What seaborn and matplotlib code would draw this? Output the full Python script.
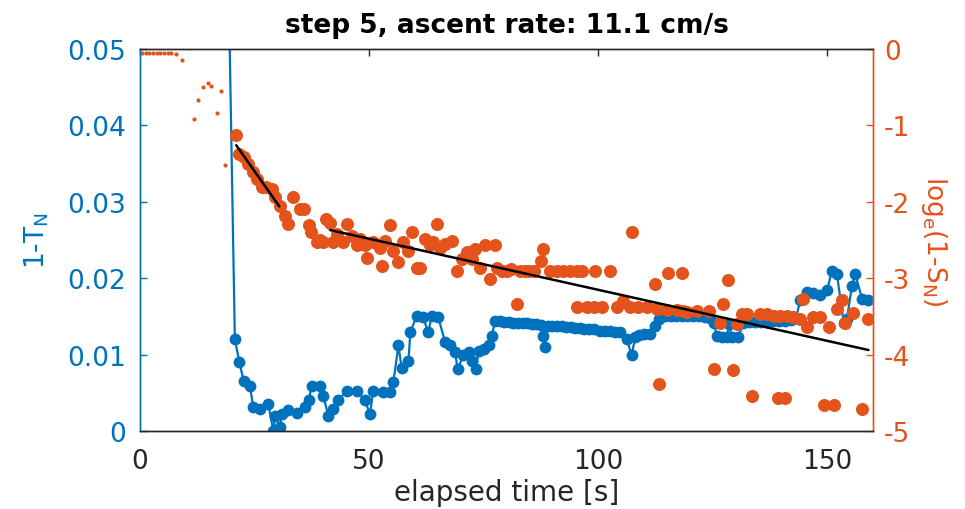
import matplotlib
matplotlib.use("Agg")
import matplotlib.pyplot as plt
import seaborn as sns

# ---------------- data ----------------
blue_t = [0.0, 19.0, 20.7, 21.7, 22.6, 24.0, 24.7, 26.2, 28.0, 29.1, 29.5, 30.6, 30.9,
          32.4, 34.2, 36.0, 36.8, 37.5, 39.3, 40.0, 41.1, 42.2, 43.3, 45.1, 47.3, 49.1,
          50.2, 50.9, 53.1, 54.6, 55.3, 56.4, 57.1, 58.6, 59.0, 60.4, 61.8, 62.9, 63.7,
          65.1, 66.6, 67.7, 68.8, 69.3, 70.6, 71.7, 72.4, 73.4, 73.9, 75.0, 76.1, 76.8,
          77.5, 78.5, 79.5, 80.5, 81.5, 82.5, 83.5, 84.5, 85.5, 86.5, 87.5, 88.0, 88.3,
          89.0, 90.0, 91.0, 92.0, 93.0, 94.0, 95.0, 96.0, 97.0, 98.0, 99.0, 100.4, 101.5,
          102.6, 103.7, 104.8, 106.3, 107.3, 108.1, 109.0, 109.9, 111.4, 112.4, 113.2,
          114.5, 115.8, 117.0, 118.3, 119.5, 120.8, 122.0, 123.3, 124.5, 125.2, 125.9,
          127.0, 128.1, 128.6, 129.2, 130.6, 131.7, 133.0, 134.3, 135.6, 136.9, 138.2,
          139.5, 140.8, 142.1, 143.2, 144.1, 145.6, 147.0, 148.5, 150.0, 151.0, 152.1,
          153.6, 154.3, 155.4, 156.1, 157.6, 159.0]
blue_v = [0.9, 0.07, 0.0120, 0.0090, 0.0066, 0.0059, 0.0031, 0.0029, 0.0035, 0.0000,
          0.0020, 0.0005, 0.0022, 0.0027, 0.0024, 0.0031, 0.0040, 0.0059, 0.0059, 0.0046,
          0.0020, 0.0029, 0.0040, 0.0053, 0.0053, 0.0040, 0.0022, 0.0053, 0.0051, 0.0051,
          0.0064, 0.0112, 0.0083, 0.0092, 0.0129, 0.0151, 0.0149, 0.0129, 0.0151, 0.0149,
          0.0116, 0.0112, 0.0103, 0.0081, 0.0099, 0.0103, 0.0092, 0.0081, 0.0105, 0.0107,
          0.0112, 0.0125, 0.0144, 0.0144, 0.0143, 0.0143, 0.0142, 0.0142, 0.0141, 0.0141,
          0.0140, 0.0140, 0.0139, 0.0125, 0.0110, 0.0138, 0.0138, 0.0137, 0.0137, 0.0136,
          0.0136, 0.0135, 0.0135, 0.0134, 0.0134, 0.0133, 0.0131, 0.0131, 0.0131, 0.0130,
          0.0129, 0.0120, 0.0099, 0.0123, 0.0126, 0.0127, 0.0127, 0.0138, 0.0147, 0.0150,
          0.0151, 0.0151, 0.0151, 0.0150, 0.0150, 0.0150, 0.0149, 0.0148, 0.0142, 0.0125,
          0.0123, 0.0123, 0.0140, 0.0123, 0.0123, 0.0142, 0.0143, 0.0143, 0.0143, 0.0143,
          0.0144, 0.0144, 0.0144, 0.0145, 0.0148, 0.0171, 0.0182, 0.0180, 0.0178, 0.0184,
          0.0210, 0.0206, 0.0142, 0.0147, 0.0190, 0.0206, 0.0173, 0.0171]

dots_t = [0.4, 1.2, 2.0, 2.8, 3.6, 4.4, 5.2, 6.0, 6.8, 7.9, 9.2, 10.8, 11.8, 12.7,
          13.8, 14.9, 15.6, 16.7, 17.7, 18.6]
dots_v = [-0.05, -0.05, -0.05, -0.05, -0.05, -0.05, -0.05, -0.05, -0.05, -0.06, -0.15,
          0.01, -0.92, -0.67, -0.50, -0.44, -0.49, -0.84, -0.55, -1.52]

orange_t = [21.0, 21.5, 22.6, 23.6, 24.7, 25.5, 26.6, 27.6, 28.7, 29.5, 30.6, 31.7,
            32.4, 33.4, 34.9, 35.7, 36.8, 37.4, 38.6, 39.3, 40.0, 40.6, 41.5, 42.2,
            43.0, 44.4, 45.1, 46.3, 47.3, 48.0, 49.1, 49.5, 50.9, 52.4, 52.8, 53.5,
            54.6, 55.3, 56.4, 57.5, 58.6, 59.3, 60.4, 61.1, 62.2, 63.3, 64.0, 64.8,
            65.5, 66.6, 68.0, 69.1, 70.2, 71.3, 72.4, 73.1, 74.2, 75.3, 76.4, 77.5,
            77.9, 79.0, 80.0, 81.0, 82.2, 83.0, 84.0, 85.0, 86.0, 87.5, 88.0, 89.5,
            91.0, 92.4, 93.9, 95.4, 96.4, 99.3, 102.6, 95.3, 97.5, 99.0, 100.8, 104.1,
            105.5, 107.0, 107.3, 108.8, 110.6, 112.4, 112.8, 113.2, 115.0, 115.3, 117.2,
            118.2, 118.6, 119.3, 121.5, 124.1, 125.2, 126.6, 127.3, 128.4, 129.5, 130.3,
            131.4, 132.4, 133.6, 135.4, 136.8, 138.3, 139.2, 139.7, 140.8, 141.2, 142.6,
            144.1, 144.8, 145.6, 147.0, 148.5, 149.2, 150.3, 151.4, 152.1, 153.2, 153.9,
            155.7, 157.6, 159.0]
orange_v = [-1.13, -1.37, -1.42, -1.51, -1.61, -1.70, -1.81, -1.80, -1.83, -1.94, -2.05,
            -2.18, -2.29, -1.94, -2.10, -2.10, -2.31, -2.40, -2.53, -2.50, -2.53, -2.22,
            -2.28, -2.53, -2.42, -2.53, -2.29, -2.45, -2.57, -2.49, -2.57, -2.73, -2.53,
            -2.60, -2.84, -2.51, -2.31, -2.64, -2.79, -2.53, -2.64, -2.40, -2.86, -2.86,
            -2.49, -2.57, -2.53, -2.29, -2.60, -2.55, -2.51, -2.90, -2.75, -2.66, -2.75,
            -2.62, -2.86, -2.57, -3.01, -2.57, -2.86, -2.90, -2.90, -2.88, -3.34, -2.90,
            -2.90, -2.90, -2.90, -2.77, -2.62, -2.90, -2.90, -2.90, -2.90, -2.90, -2.90,
            -2.90, -2.91, -3.38, -3.38, -3.38, -3.38, -3.38, -3.30, -3.38, -2.39, -3.38,
            -3.38, -3.08, -3.40, -4.38, -3.42, -2.93, -3.42, -2.93, -3.43, -3.44, -3.43,
            -3.43, -4.19, -3.58, -3.34, -3.03, -4.20, -3.60, -3.47, -3.47, -4.54, -3.47,
            -3.47, -3.49, -4.57, -3.49, -4.57, -3.49, -3.51, -3.53, -3.27, -3.64, -3.51,
            -3.51, -4.66, -3.64, -4.66, -3.40, -3.29, -3.58, -3.45, -4.71, -3.53]

fit1_t = [21.0, 30.4]
fit1_v = [-1.26, -2.06]
fit2_t = [41.5, 159.0]
fit2_v = [-2.37, -3.94]

x_ticks = [0, 50, 100, 150]
left_ticks = [0, 0.01, 0.02, 0.03, 0.04, 0.05]
left_labels = ["0", "0.01", "0.02", "0.03", "0.04", "0.05"]
right_ticks = [-5, -4, -3, -2, -1, 0]
right_labels = ["-5", "-4", "-3", "-2", "-1", "0"]

# ---------------- style ----------------
BLUE = "#0072BD"
ORANGE = "#E4531B"
DARK = "#262626"

sns.set_theme(style="white")
plt.rcParams["font.family"] = ["DejaVu Sans"]
plt.rcParams["axes.unicode_minus"] = False
plt.rcParams["mathtext.default"] = "regular"

fig = plt.figure(figsize=(9.65, 5.10), dpi=100)
ax = fig.add_axes([0.1451, 0.1529, 0.7596, 0.7491])
ax2 = ax.twinx()

# blue series on left axis
sns.lineplot(x=blue_t, y=blue_v, ax=ax, color=BLUE, marker="o", markersize=8.5,
             markeredgecolor=BLUE, markeredgewidth=0, linewidth=1.6,
             estimator=None, sort=False)

# orange series on right axis
sns.scatterplot(x=dots_t, y=dots_v, ax=ax2, color=ORANGE, s=9, linewidth=0)
sns.scatterplot(x=orange_t, y=orange_v, ax=ax2, color=ORANGE, s=88, linewidth=0)
sns.lineplot(x=fit1_t, y=fit1_v, ax=ax2, color="black", linewidth=1.8, estimator=None)
sns.lineplot(x=fit2_t, y=fit2_v, ax=ax2, color="black", linewidth=1.8, estimator=None)

ax.set_xlim(0, 160)
ax.set_ylim(0, 0.05)
ax2.set_ylim(-5, 0)

ax.set_xticks(x_ticks)
ax.set_xticklabels([str(t) for t in x_ticks])
ax.set_yticks(left_ticks)
ax.set_yticklabels(left_labels)
ax2.set_yticks(right_ticks)
ax2.set_yticklabels(right_labels)

FS = 19
ax.tick_params(axis="x", direction="in", length=5, width=1, colors=DARK,
               labelsize=FS, top=True, pad=12)
ax.tick_params(axis="y", direction="in", length=5, width=1, colors=BLUE,
               labelsize=FS, pad=10)
ax2.tick_params(axis="y", direction="in", length=5, width=1, colors=ORANGE,
                labelsize=FS, pad=8)

for a in (ax, ax2):
    a.spines["top"].set_color(DARK)
    a.spines["bottom"].set_color(DARK)
    a.spines["left"].set_color(BLUE)
    a.spines["right"].set_color(ORANGE)
    for s in a.spines.values():
        s.set_linewidth(1.0)

ax.set_xlabel("elapsed time [s]", fontsize=20, color=DARK, labelpad=3)
ax.set_ylabel("1-T$_N$", fontsize=19, color=BLUE, labelpad=12)
ax2.set_ylabel("log$_e$(1-S$_N$)", fontsize=19, color=ORANGE, rotation=270,
               labelpad=28)
ax.set_title("step 5, ascent rate: 11.1 cm/s", fontsize=19, fontweight="bold",
             color="black", pad=12)

fig.savefig("out.png", dpi=100)
